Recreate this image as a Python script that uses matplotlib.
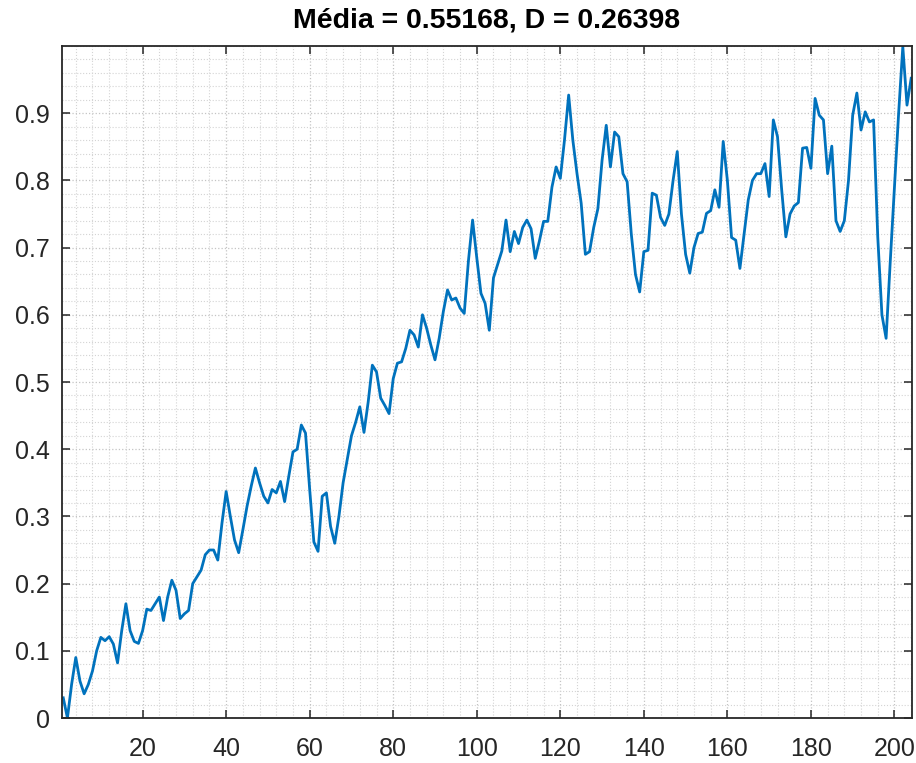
import numpy as np
import matplotlib
matplotlib.use("Agg")
from matplotlib import pyplot as plt
from matplotlib.ticker import MultipleLocator, FixedLocator

# serie lida ponto a ponto (indice 1..204)
valores = [
    0.03, 0.0, 0.05, 0.09, 0.055, 0.036, 0.05, 0.07, 0.1, 0.12,
    0.115, 0.121, 0.11, 0.082, 0.13, 0.17, 0.13, 0.114, 0.111, 0.13,
    0.162, 0.16, 0.17, 0.18, 0.145, 0.18, 0.205, 0.19, 0.148, 0.155,
    0.16, 0.2, 0.21, 0.22, 0.243, 0.25, 0.25, 0.235, 0.29, 0.337,
    0.3, 0.265, 0.246, 0.28, 0.315, 0.345, 0.372, 0.35, 0.33, 0.32,
    0.34, 0.335, 0.352, 0.322, 0.36, 0.396, 0.4, 0.436, 0.424, 0.34,
    0.262, 0.248, 0.33, 0.335, 0.285, 0.26, 0.3, 0.35, 0.385, 0.42,
    0.44, 0.463, 0.425, 0.47, 0.525, 0.515, 0.476, 0.465, 0.453, 0.505,
    0.528, 0.53, 0.55, 0.577, 0.57, 0.552, 0.6, 0.58, 0.555, 0.533,
    0.565, 0.605, 0.637, 0.622, 0.625, 0.61, 0.602, 0.68, 0.741, 0.685,
    0.632, 0.617, 0.577, 0.655, 0.675, 0.695, 0.741, 0.694, 0.724, 0.706,
    0.73, 0.741, 0.728, 0.684, 0.71, 0.739, 0.739, 0.79, 0.82, 0.803,
    0.86, 0.927, 0.86, 0.81, 0.766, 0.69, 0.694, 0.73, 0.758, 0.83,
    0.882, 0.82, 0.872, 0.865, 0.81, 0.798, 0.72, 0.66, 0.634, 0.694,
    0.696, 0.781, 0.778, 0.745, 0.733, 0.75, 0.8, 0.843, 0.75, 0.69,
    0.662, 0.7, 0.721, 0.723, 0.751, 0.755, 0.786, 0.76, 0.858, 0.8,
    0.715, 0.711, 0.669, 0.72, 0.771, 0.8, 0.81, 0.81, 0.825, 0.776,
    0.89, 0.865, 0.786, 0.716, 0.75, 0.762, 0.767, 0.848, 0.849, 0.818,
    0.922, 0.897, 0.89, 0.81, 0.851, 0.74, 0.724, 0.74, 0.8, 0.897,
    0.93, 0.875, 0.902, 0.887, 0.89, 0.716, 0.6, 0.565, 0.68, 0.79,
    0.9, 0.999, 0.912, 0.952,
]
x = np.arange(1, len(valores) + 1)

titulo = "Média = 0.55168, D = 0.26398"
xticks = list(range(20, 201, 20))
yticks = [0, 0.1, 0.2, 0.3, 0.4, 0.5, 0.6, 0.7, 0.8, 0.9]
yticklabels = ["0", "0.1", "0.2", "0.3", "0.4", "0.5", "0.6", "0.7", "0.8", "0.9"]

plt.rcParams['font.family'] = ['Liberation Sans', 'DejaVu Sans']

fig = plt.figure(figsize=(9.16, 7.63), dpi=100)
ax = fig.add_axes([62 / 916, 45 / 763, (912 - 62) / 916, (718 - 46) / 763])

ax.plot(x, valores, color='#0072BD', linewidth=2.0)

ax.set_xlim(0.7, 204.2)
ax.set_ylim(0, 1)
ax.xaxis.set_major_locator(FixedLocator(xticks))
ax.yaxis.set_major_locator(FixedLocator(yticks))
ax.set_yticklabels(yticklabels)
ax.xaxis.set_minor_locator(MultipleLocator(4))
ax.yaxis.set_minor_locator(MultipleLocator(0.02))

# grade estilo "grid minor"
ax.grid(which='major', color='#c4c4c4', linestyle=':', linewidth=0.9)
ax.grid(which='minor', color='#d4d4d4', linestyle=':', linewidth=0.8)
ax.set_axisbelow(True)

ax.tick_params(which='major', direction='in', length=6, width=1.1,
               top=True, right=True, labelsize=18, colors='#262626')
ax.tick_params(axis='y', pad=9)
ax.tick_params(axis='x', pad=14)
ax.tick_params(which='minor', length=0, top=True, right=True)
for s in ax.spines.values():
    s.set_color('#262626')
    s.set_linewidth(1.3)

ax.set_title(titulo, fontsize=20.5, fontweight='bold', color='black', pad=13)

fig.savefig("out.png", dpi=100)
